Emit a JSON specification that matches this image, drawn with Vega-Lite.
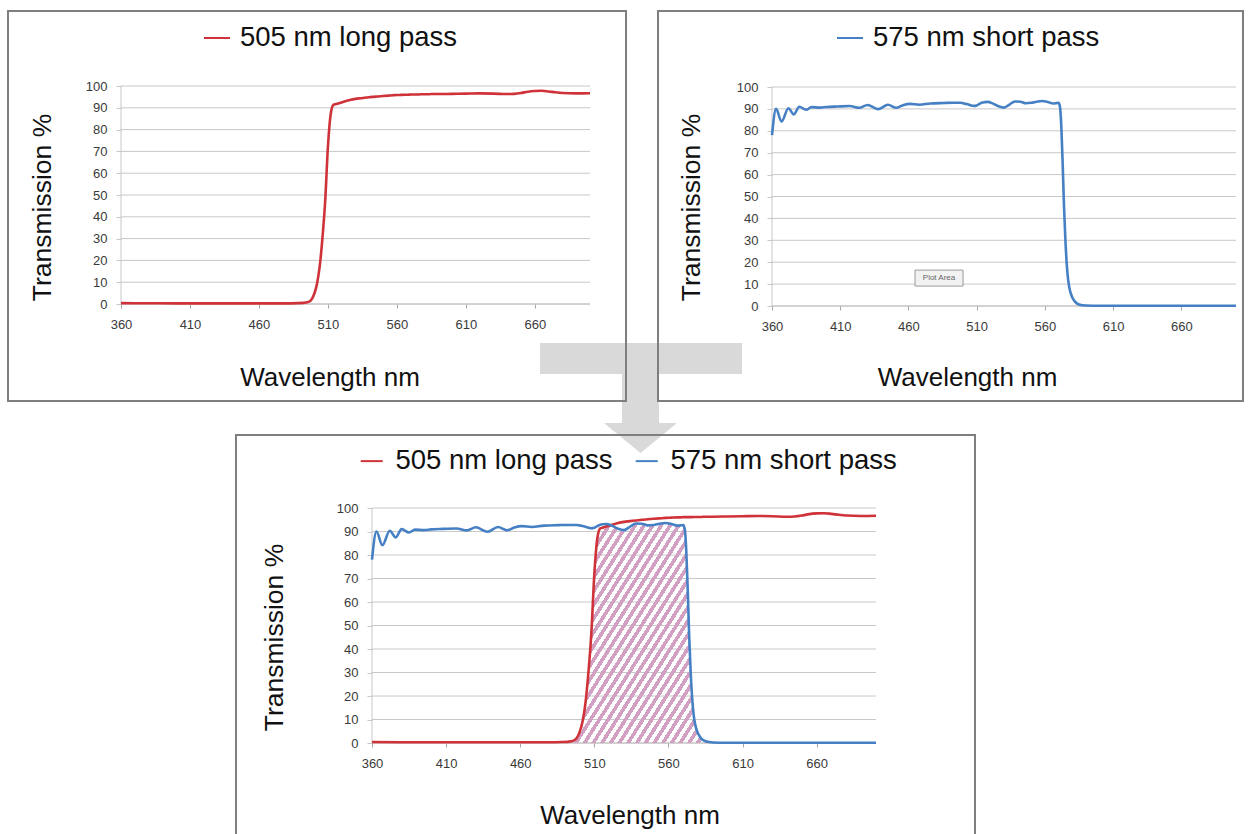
{
"$schema": "https://vega.github.io/schema/vega-lite/v6.json",
"width": 1249, "height": 834,
"autosize": {"type": "none", "contains": "padding"},
"padding": 0,
"background": "white",
"config": {"view": {"stroke": null}, "font": "Liberation Sans", "axis": {"labelFont": "Liberation Sans", "labelFontSize": 13, "labelColor": "#3a3a3a"}},
"datasets": {
"grid": [{"T":10},{"T":20},{"T":30},{"T":40},{"T":50},{"T":60},{"T":70},{"T":80},{"T":90},{"T":100}],
"spectra": [
{"s":"505 nm long pass","wl":360,"T":0.4},{"s":"505 nm long pass","wl":380,"T":0.35},{"s":"505 nm long pass","wl":400,"T":0.3},{"s":"505 nm long pass","wl":420,"T":0.3},{"s":"505 nm long pass","wl":440,"T":0.3},{"s":"505 nm long pass","wl":460,"T":0.3},{"s":"505 nm long pass","wl":480,"T":0.3},{"s":"505 nm long pass","wl":488,"T":0.4},{"s":"505 nm long pass","wl":492,"T":0.5},{"s":"505 nm long pass","wl":494,"T":0.7},{"s":"505 nm long pass","wl":496,"T":1},{"s":"505 nm long pass","wl":498,"T":2},{"s":"505 nm long pass","wl":500,"T":4.5},{"s":"505 nm long pass","wl":502,"T":9},{"s":"505 nm long pass","wl":504,"T":17},{"s":"505 nm long pass","wl":506,"T":30},{"s":"505 nm long pass","wl":508,"T":47},{"s":"505 nm long pass","wl":510,"T":72},{"s":"505 nm long pass","wl":512,"T":87},{"s":"505 nm long pass","wl":514,"T":91.3},{"s":"505 nm long pass","wl":516,"T":91.7},{"s":"505 nm long pass","wl":518,"T":92.1},{"s":"505 nm long pass","wl":522,"T":92.9},{"s":"505 nm long pass","wl":526,"T":93.6},{"s":"505 nm long pass","wl":530,"T":94.1},{"s":"505 nm long pass","wl":534,"T":94.4},{"s":"505 nm long pass","wl":538,"T":94.7},{"s":"505 nm long pass","wl":542,"T":95},{"s":"505 nm long pass","wl":546,"T":95.2},{"s":"505 nm long pass","wl":550,"T":95.4},{"s":"505 nm long pass","wl":554,"T":95.6},{"s":"505 nm long pass","wl":558,"T":95.8},{"s":"505 nm long pass","wl":562,"T":95.9},{"s":"505 nm long pass","wl":566,"T":96},{"s":"505 nm long pass","wl":568,"T":96},{"s":"505 nm long pass","wl":570,"T":96.1},{"s":"505 nm long pass","wl":571,"T":96.1},{"s":"505 nm long pass","wl":572,"T":96.1},{"s":"505 nm long pass","wl":573,"T":96.1},{"s":"505 nm long pass","wl":574,"T":96.1},{"s":"505 nm long pass","wl":575,"T":96.1},{"s":"505 nm long pass","wl":576,"T":96.1},{"s":"505 nm long pass","wl":577,"T":96.2},{"s":"505 nm long pass","wl":578,"T":96.2},{"s":"505 nm long pass","wl":580,"T":96.2},{"s":"505 nm long pass","wl":582,"T":96.2},{"s":"505 nm long pass","wl":585,"T":96.3},{"s":"505 nm long pass","wl":590,"T":96.3},{"s":"505 nm long pass","wl":600,"T":96.4},{"s":"505 nm long pass","wl":610,"T":96.5},{"s":"505 nm long pass","wl":620,"T":96.6},{"s":"505 nm long pass","wl":630,"T":96.5},{"s":"505 nm long pass","wl":640,"T":96.3},{"s":"505 nm long pass","wl":645,"T":96.4},{"s":"505 nm long pass","wl":650,"T":96.8},{"s":"505 nm long pass","wl":655,"T":97.4},{"s":"505 nm long pass","wl":660,"T":97.7},{"s":"505 nm long pass","wl":665,"T":97.8},{"s":"505 nm long pass","wl":670,"T":97.5},{"s":"505 nm long pass","wl":675,"T":97.1},{"s":"505 nm long pass","wl":680,"T":96.8},{"s":"505 nm long pass","wl":690,"T":96.6},{"s":"505 nm long pass","wl":700,"T":96.7},
{"s":"575 nm short pass","wl":360,"T":78},{"s":"575 nm short pass","wl":363,"T":90},{"s":"575 nm short pass","wl":367,"T":84.2},{"s":"575 nm short pass","wl":372,"T":90.3},{"s":"575 nm short pass","wl":376,"T":87.5},{"s":"575 nm short pass","wl":380,"T":91},{"s":"575 nm short pass","wl":385,"T":89.6},{"s":"575 nm short pass","wl":389,"T":90.8},{"s":"575 nm short pass","wl":395,"T":90.6},{"s":"575 nm short pass","wl":400,"T":90.9},{"s":"575 nm short pass","wl":408,"T":91.1},{"s":"575 nm short pass","wl":417,"T":91.3},{"s":"575 nm short pass","wl":424,"T":90.5},{"s":"575 nm short pass","wl":430,"T":91.8},{"s":"575 nm short pass","wl":438,"T":89.9},{"s":"575 nm short pass","wl":445,"T":91.9},{"s":"575 nm short pass","wl":451,"T":90.5},{"s":"575 nm short pass","wl":456,"T":91.7},{"s":"575 nm short pass","wl":461,"T":92.3},{"s":"575 nm short pass","wl":468,"T":91.9},{"s":"575 nm short pass","wl":476,"T":92.5},{"s":"575 nm short pass","wl":486,"T":92.7},{"s":"575 nm short pass","wl":492,"T":92.8},{"s":"575 nm short pass","wl":496,"T":92.8},{"s":"575 nm short pass","wl":498,"T":92.8},{"s":"575 nm short pass","wl":500,"T":92.6},{"s":"575 nm short pass","wl":502,"T":92.3},{"s":"575 nm short pass","wl":504,"T":92.0},{"s":"575 nm short pass","wl":506,"T":91.6},{"s":"575 nm short pass","wl":508,"T":91.4},{"s":"575 nm short pass","wl":510,"T":91.6},{"s":"575 nm short pass","wl":512,"T":92.3},{"s":"575 nm short pass","wl":514,"T":92.9},{"s":"575 nm short pass","wl":516,"T":93.1},{"s":"575 nm short pass","wl":518,"T":93.2},{"s":"575 nm short pass","wl":522,"T":92.4},{"s":"575 nm short pass","wl":526,"T":91.2},{"s":"575 nm short pass","wl":530,"T":90.6},{"s":"575 nm short pass","wl":534,"T":92.0},{"s":"575 nm short pass","wl":538,"T":93.4},{"s":"575 nm short pass","wl":542,"T":93.3},{"s":"575 nm short pass","wl":546,"T":92.6},{"s":"575 nm short pass","wl":550,"T":92.8},{"s":"575 nm short pass","wl":554,"T":93.3},{"s":"575 nm short pass","wl":558,"T":93.6},{"s":"575 nm short pass","wl":562,"T":93.2},{"s":"575 nm short pass","wl":566,"T":92.5},{"s":"575 nm short pass","wl":568,"T":92.6},{"s":"575 nm short pass","wl":570,"T":92.8},{"s":"575 nm short pass","wl":571,"T":91},{"s":"575 nm short pass","wl":572,"T":82},{"s":"575 nm short pass","wl":573,"T":65},{"s":"575 nm short pass","wl":574,"T":45},{"s":"575 nm short pass","wl":575,"T":30},{"s":"575 nm short pass","wl":576,"T":19},{"s":"575 nm short pass","wl":577,"T":12},{"s":"575 nm short pass","wl":578,"T":8},{"s":"575 nm short pass","wl":580,"T":4},{"s":"575 nm short pass","wl":582,"T":2},{"s":"575 nm short pass","wl":585,"T":0.7},{"s":"575 nm short pass","wl":590,"T":0.2},{"s":"575 nm short pass","wl":600,"T":0.1},{"s":"575 nm short pass","wl":650,"T":0.1},{"s":"575 nm short pass","wl":700,"T":0.1}
]
},
"resolve": {"scale": {"x": "independent", "y": "independent", "color": "independent"}},
"layer": [
{
"layer": [
{"data": {"values": [{}]},
 "mark": {"type": "point", "shape": "M-1,-0.5446L1,-0.5446L1,-0.2376L0.1782,-0.2376L0.1782,0.2475L0.3564,0.2475L-0.005,0.5446L-0.3663,0.2475L-0.1881,0.2475L-0.1881,-0.2376L-1,-0.2376Z", "size": 40804, "filled": true, "fill": "#d9d9d9", "strokeWidth": 0, "opacity": 1},
 "encoding": {"x": {"datum": 736.97, "type": "quantitative", "scale": {"domain":[272.28,1177.74],"nice":false,"zero":false}},
              "y": {"datum": -43.12, "type": "quantitative", "scale": {"domain":[-243.12,139.45],"nice":false,"zero":false}}}},
{"data": {"name": "grid"},
 "mark": {"type": "rule", "color": "#c8c8c8", "strokeWidth": 1},
 "encoding": {"y": {"field": "T", "type": "quantitative", "scale": {"domain":[-243.12,139.45],"nice":false,"zero":false}},
              "x": {"datum": 360, "type": "quantitative", "scale": {"domain":[272.28,1177.74],"nice":false,"zero":false}},
              "x2": {"datum": 700}}},
{"data": {"values": [{}]},
 "mark": {"type": "rule", "color": "#a6a6a6", "strokeWidth": 1},
 "encoding": {"y": {"datum": 0, "type": "quantitative", "scale": {"domain":[-243.12,139.45],"nice":false,"zero":false}},
              "x": {"datum": 360, "type": "quantitative", "scale": {"domain":[272.28,1177.74],"nice":false,"zero":false}},
              "x2": {"datum": 700}}},
{"data": {"values": [{}]},
 "mark": {"type": "rule", "color": "#c8c8c8", "strokeWidth": 1},
 "encoding": {"x": {"datum": 360, "type": "quantitative", "scale": {"domain":[272.28,1177.74],"nice":false,"zero":false}},
              "y": {"datum": 0, "type": "quantitative", "scale": {"domain":[-243.12,139.45],"nice":false,"zero":false}},
              "y2": {"datum": 100}}},
{"data": {"name": "spectra"},
 "transform": [{"filter": "datum.s === '505 nm long pass'"}],
 "mark": {"type": "line", "strokeWidth": 2.6, "interpolate": "monotone"},
 "encoding": {
  "x": {"field": "wl", "type": "quantitative", "scale": {"domain":[272.28,1177.74],"nice":false,"zero":false},
        "axis": {"orient": "bottom", "offset": -530, "values": [360,410,460,510,560,610,660], "domain": false, "grid": false, "ticks": true, "tickSize": 4, "tickColor": "#a6a6a6", "labelPadding": 10, "title": "Wavelength nm", "titleFont": "Liberation Sans", "titleFontSize": 26, "titleFontWeight": "normal", "titleColor": "#111111", "titleX": 329.5, "titleY": 73, "titleAlign": "center", "titleBaseline": "middle", "titleAngle": 0}},
  "y": {"field": "T", "type": "quantitative", "scale": {"domain":[-243.12,139.45],"nice":false,"zero":false},
        "axis": {"orient": "left", "offset": -121, "values": [0,10,20,30,40,50,60,70,80,90,100], "domain": false, "grid": false, "ticks": true, "tickSize": 5, "tickColor": "#c8c8c8", "labelPadding": 9, "title": "Transmission %", "titleFont": "Liberation Sans", "titleFontSize": 26.5, "titleFontWeight": "normal", "titleColor": "#111111", "titleX": -79, "titleY": 207, "titleAngle": -90, "titleAlign": "center", "titleBaseline": "middle"}},
  "color": {"field": "s", "type": "nominal", "scale": {"domain": ["505 nm long pass"], "range": ["#cf3339"]},
        "legend": {"orient": "none", "legendX": 203, "legendY": 24, "title": null, "symbolType": "stroke", "symbolSize": 676, "symbolStrokeWidth": 2, "labelFont": "Liberation Sans", "labelFontSize": 27.5, "labelColor": "#111111", "labelOffset": 9, "labelLimit": 400, "padding": 0}}
 }},
{"data": {"values": [{}]},
 "mark": {"type": "rect", "fill": "transparent", "stroke": "#7f7f7f", "strokeWidth": 2},
 "encoding": {"x": {"datum": 278.08, "type": "quantitative", "scale": {"domain":[272.28,1177.74],"nice":false,"zero":false}},
              "x2": {"datum": 726.10},
              "y": {"datum": 134.40, "type": "quantitative", "scale": {"domain":[-243.12,139.45],"nice":false,"zero":false}},
              "y2": {"datum": -44.50}}}
]
},
{
"layer": [
{"data": {"name": "grid"},
 "mark": {"type": "rule", "color": "#c8c8c8", "strokeWidth": 1},
 "encoding": {"y": {"field": "T", "type": "quantitative", "scale": {"domain":[-241.10,139.73],"nice":false,"zero":false}},
              "x": {"datum": 360, "type": "quantitative", "scale": {"domain":[-205.69,709.53],"nice":false,"zero":false}},
              "x2": {"datum": 700}}},
{"data": {"values": [{}]},
 "mark": {"type": "rule", "color": "#a6a6a6", "strokeWidth": 1},
 "encoding": {"y": {"datum": 0, "type": "quantitative", "scale": {"domain":[-241.10,139.73],"nice":false,"zero":false}},
              "x": {"datum": 360, "type": "quantitative", "scale": {"domain":[-205.69,709.53],"nice":false,"zero":false}},
              "x2": {"datum": 700}}},
{"data": {"values": [{}]},
 "mark": {"type": "rule", "color": "#c8c8c8", "strokeWidth": 1},
 "encoding": {"x": {"datum": 360, "type": "quantitative", "scale": {"domain":[-205.69,709.53],"nice":false,"zero":false}},
              "y": {"datum": 0, "type": "quantitative", "scale": {"domain":[-241.10,139.73],"nice":false,"zero":false}},
              "y2": {"datum": 100}}},
{"data": {"values": [{}]},
 "mark": {"type": "rect", "fill": "#f2f2f2", "stroke": "#9a9a9a", "strokeWidth": 1},
 "encoding": {"x": {"datum": 464.8, "type": "quantitative", "scale": {"domain":[-205.69,709.53],"nice":false,"zero":false}},
              "x2": {"datum": 500.0},
              "y": {"datum": 16.4, "type": "quantitative", "scale": {"domain":[-241.10,139.73],"nice":false,"zero":false}},
              "y2": {"datum": 9.1}}},
{"data": {"values": [{}]},
 "mark": {"type": "text", "text": "Plot Area", "fontSize": 8, "color": "#666666", "align": "center", "baseline": "middle"},
 "encoding": {"x": {"datum": 482.4, "type": "quantitative", "scale": {"domain":[-205.69,709.53],"nice":false,"zero":false}},
              "y": {"datum": 12.8, "type": "quantitative", "scale": {"domain":[-241.10,139.73],"nice":false,"zero":false}}}},
{"data": {"name": "spectra"},
 "transform": [{"filter": "datum.s === '575 nm short pass'"}],
 "mark": {"type": "line", "strokeWidth": 2.6, "interpolate": "monotone"},
 "encoding": {
  "x": {"field": "wl", "type": "quantitative", "scale": {"domain":[-205.69,709.53],"nice":false,"zero":false},
        "axis": {"orient": "bottom", "offset": -528, "values": [360,410,460,510,560,610,660], "domain": false, "grid": false, "ticks": true, "tickSize": 4, "tickColor": "#a6a6a6", "labelPadding": 10, "title": "Wavelength nm", "titleFont": "Liberation Sans", "titleFontSize": 26, "titleFontWeight": "normal", "titleColor": "#111111", "titleX": 967, "titleY": 71, "titleAlign": "center", "titleBaseline": "middle", "titleAngle": 0}},
  "y": {"field": "T", "type": "quantitative", "scale": {"domain":[-241.10,139.73],"nice":false,"zero":false},
        "axis": {"orient": "left", "offset": -772, "values": [0,10,20,30,40,50,60,70,80,90,100], "domain": false, "grid": false, "ticks": true, "tickSize": 5, "tickColor": "#c8c8c8", "labelPadding": 9, "title": "Transmission %", "titleFont": "Liberation Sans", "titleFontSize": 26.5, "titleFontWeight": "normal", "titleColor": "#111111", "titleX": -81, "titleY": 207, "titleAngle": -90, "titleAlign": "center", "titleBaseline": "middle"}},
  "color": {"field": "s", "type": "nominal", "scale": {"domain": ["575 nm short pass"], "range": ["#4680c4"]},
        "legend": {"orient": "none", "legendX": 836, "legendY": 24, "title": null, "symbolType": "stroke", "symbolSize": 676, "symbolStrokeWidth": 2, "labelFont": "Liberation Sans", "labelFontSize": 27.5, "labelColor": "#111111", "labelOffset": 9, "labelLimit": 400, "padding": 0}}
 }},
{"data": {"values": [{}]},
 "mark": {"type": "rect", "fill": "transparent", "stroke": "#7f7f7f", "strokeWidth": 2},
 "encoding": {"x": {"datum": 276.47, "type": "quantitative", "scale": {"domain":[-205.69,709.53],"nice":false,"zero":false}},
              "x2": {"datum": 705.13},
              "y": {"datum": 134.70, "type": "quantitative", "scale": {"domain":[-241.10,139.73],"nice":false,"zero":false}},
              "y2": {"datum": -43.38}}}
]
},
{
"layer": [
{"data": {"name": "grid"},
 "mark": {"type": "rule", "color": "#c8c8c8", "strokeWidth": 1},
 "encoding": {"y": {"field": "T", "type": "quantitative", "scale": {"domain":[-38.72,316.17],"nice":false,"zero":false}},
              "x": {"datum": 360, "type": "quantitative", "scale": {"domain":[109.05,951.63],"nice":false,"zero":false}},
              "x2": {"datum": 700}}},
{"data": {"values": [{}]},
 "mark": {"type": "rule", "color": "#a6a6a6", "strokeWidth": 1},
 "encoding": {"y": {"datum": 0, "type": "quantitative", "scale": {"domain":[-38.72,316.17],"nice":false,"zero":false}},
              "x": {"datum": 360, "type": "quantitative", "scale": {"domain":[109.05,951.63],"nice":false,"zero":false}},
              "x2": {"datum": 700}}},
{"data": {"values": [{}]},
 "mark": {"type": "rule", "color": "#c8c8c8", "strokeWidth": 1},
 "encoding": {"x": {"datum": 360, "type": "quantitative", "scale": {"domain":[109.05,951.63],"nice":false,"zero":false}},
              "y": {"datum": 0, "type": "quantitative", "scale": {"domain":[-38.72,316.17],"nice":false,"zero":false}},
              "y2": {"datum": 100}}},
{"data": {"name": "spectra"},
 "transform": [{"filter": "datum.wl >= 496 && datum.wl <= 590"}],
 "mark": {"type": "area", "interpolate": "monotone", "strokeWidth": 0, "opacity": 1,
  "fill": {"gradient": "linear", "x1": 0, "y1": 0, "x2": 1, "y2": 1, "stops": [
{"offset":0,"color":"#d2a0c3"},{"offset":0.015625,"color":"#d2a0c3"},{"offset":0.015625,"color":"rgba(210,160,195,0)"},{"offset":0.03125,"color":"rgba(210,160,195,0)"},
{"offset":0.03125,"color":"#d2a0c3"},{"offset":0.046875,"color":"#d2a0c3"},{"offset":0.046875,"color":"rgba(210,160,195,0)"},{"offset":0.0625,"color":"rgba(210,160,195,0)"},
{"offset":0.0625,"color":"#d2a0c3"},{"offset":0.078125,"color":"#d2a0c3"},{"offset":0.078125,"color":"rgba(210,160,195,0)"},{"offset":0.09375,"color":"rgba(210,160,195,0)"},
{"offset":0.09375,"color":"#d2a0c3"},{"offset":0.109375,"color":"#d2a0c3"},{"offset":0.109375,"color":"rgba(210,160,195,0)"},{"offset":0.125,"color":"rgba(210,160,195,0)"},
{"offset":0.125,"color":"#d2a0c3"},{"offset":0.140625,"color":"#d2a0c3"},{"offset":0.140625,"color":"rgba(210,160,195,0)"},{"offset":0.15625,"color":"rgba(210,160,195,0)"},
{"offset":0.15625,"color":"#d2a0c3"},{"offset":0.171875,"color":"#d2a0c3"},{"offset":0.171875,"color":"rgba(210,160,195,0)"},{"offset":0.1875,"color":"rgba(210,160,195,0)"},
{"offset":0.1875,"color":"#d2a0c3"},{"offset":0.203125,"color":"#d2a0c3"},{"offset":0.203125,"color":"rgba(210,160,195,0)"},{"offset":0.21875,"color":"rgba(210,160,195,0)"},
{"offset":0.21875,"color":"#d2a0c3"},{"offset":0.234375,"color":"#d2a0c3"},{"offset":0.234375,"color":"rgba(210,160,195,0)"},{"offset":0.25,"color":"rgba(210,160,195,0)"},
{"offset":0.25,"color":"#d2a0c3"},{"offset":0.265625,"color":"#d2a0c3"},{"offset":0.265625,"color":"rgba(210,160,195,0)"},{"offset":0.28125,"color":"rgba(210,160,195,0)"},
{"offset":0.28125,"color":"#d2a0c3"},{"offset":0.296875,"color":"#d2a0c3"},{"offset":0.296875,"color":"rgba(210,160,195,0)"},{"offset":0.3125,"color":"rgba(210,160,195,0)"},
{"offset":0.3125,"color":"#d2a0c3"},{"offset":0.328125,"color":"#d2a0c3"},{"offset":0.328125,"color":"rgba(210,160,195,0)"},{"offset":0.34375,"color":"rgba(210,160,195,0)"},
{"offset":0.34375,"color":"#d2a0c3"},{"offset":0.359375,"color":"#d2a0c3"},{"offset":0.359375,"color":"rgba(210,160,195,0)"},{"offset":0.375,"color":"rgba(210,160,195,0)"},
{"offset":0.375,"color":"#d2a0c3"},{"offset":0.390625,"color":"#d2a0c3"},{"offset":0.390625,"color":"rgba(210,160,195,0)"},{"offset":0.40625,"color":"rgba(210,160,195,0)"},
{"offset":0.40625,"color":"#d2a0c3"},{"offset":0.421875,"color":"#d2a0c3"},{"offset":0.421875,"color":"rgba(210,160,195,0)"},{"offset":0.4375,"color":"rgba(210,160,195,0)"},
{"offset":0.4375,"color":"#d2a0c3"},{"offset":0.453125,"color":"#d2a0c3"},{"offset":0.453125,"color":"rgba(210,160,195,0)"},{"offset":0.46875,"color":"rgba(210,160,195,0)"},
{"offset":0.46875,"color":"#d2a0c3"},{"offset":0.484375,"color":"#d2a0c3"},{"offset":0.484375,"color":"rgba(210,160,195,0)"},{"offset":0.5,"color":"rgba(210,160,195,0)"},
{"offset":0.5,"color":"#d2a0c3"},{"offset":0.515625,"color":"#d2a0c3"},{"offset":0.515625,"color":"rgba(210,160,195,0)"},{"offset":0.53125,"color":"rgba(210,160,195,0)"},
{"offset":0.53125,"color":"#d2a0c3"},{"offset":0.546875,"color":"#d2a0c3"},{"offset":0.546875,"color":"rgba(210,160,195,0)"},{"offset":0.5625,"color":"rgba(210,160,195,0)"},
{"offset":0.5625,"color":"#d2a0c3"},{"offset":0.578125,"color":"#d2a0c3"},{"offset":0.578125,"color":"rgba(210,160,195,0)"},{"offset":0.59375,"color":"rgba(210,160,195,0)"},
{"offset":0.59375,"color":"#d2a0c3"},{"offset":0.609375,"color":"#d2a0c3"},{"offset":0.609375,"color":"rgba(210,160,195,0)"},{"offset":0.625,"color":"rgba(210,160,195,0)"},
{"offset":0.625,"color":"#d2a0c3"},{"offset":0.640625,"color":"#d2a0c3"},{"offset":0.640625,"color":"rgba(210,160,195,0)"},{"offset":0.65625,"color":"rgba(210,160,195,0)"},
{"offset":0.65625,"color":"#d2a0c3"},{"offset":0.671875,"color":"#d2a0c3"},{"offset":0.671875,"color":"rgba(210,160,195,0)"},{"offset":0.6875,"color":"rgba(210,160,195,0)"},
{"offset":0.6875,"color":"#d2a0c3"},{"offset":0.703125,"color":"#d2a0c3"},{"offset":0.703125,"color":"rgba(210,160,195,0)"},{"offset":0.71875,"color":"rgba(210,160,195,0)"},
{"offset":0.71875,"color":"#d2a0c3"},{"offset":0.734375,"color":"#d2a0c3"},{"offset":0.734375,"color":"rgba(210,160,195,0)"},{"offset":0.75,"color":"rgba(210,160,195,0)"},
{"offset":0.75,"color":"#d2a0c3"},{"offset":0.765625,"color":"#d2a0c3"},{"offset":0.765625,"color":"rgba(210,160,195,0)"},{"offset":0.78125,"color":"rgba(210,160,195,0)"},
{"offset":0.78125,"color":"#d2a0c3"},{"offset":0.796875,"color":"#d2a0c3"},{"offset":0.796875,"color":"rgba(210,160,195,0)"},{"offset":0.8125,"color":"rgba(210,160,195,0)"},
{"offset":0.8125,"color":"#d2a0c3"},{"offset":0.828125,"color":"#d2a0c3"},{"offset":0.828125,"color":"rgba(210,160,195,0)"},{"offset":0.84375,"color":"rgba(210,160,195,0)"},
{"offset":0.84375,"color":"#d2a0c3"},{"offset":0.859375,"color":"#d2a0c3"},{"offset":0.859375,"color":"rgba(210,160,195,0)"},{"offset":0.875,"color":"rgba(210,160,195,0)"},
{"offset":0.875,"color":"#d2a0c3"},{"offset":0.890625,"color":"#d2a0c3"},{"offset":0.890625,"color":"rgba(210,160,195,0)"},{"offset":0.90625,"color":"rgba(210,160,195,0)"},
{"offset":0.90625,"color":"#d2a0c3"},{"offset":0.921875,"color":"#d2a0c3"},{"offset":0.921875,"color":"rgba(210,160,195,0)"},{"offset":0.9375,"color":"rgba(210,160,195,0)"},
{"offset":0.9375,"color":"#d2a0c3"},{"offset":0.953125,"color":"#d2a0c3"},{"offset":0.953125,"color":"rgba(210,160,195,0)"},{"offset":0.96875,"color":"rgba(210,160,195,0)"},
{"offset":0.96875,"color":"#d2a0c3"},{"offset":0.984375,"color":"#d2a0c3"},{"offset":0.984375,"color":"rgba(210,160,195,0)"},{"offset":1,"color":"rgba(210,160,195,0)"}
  ]}},
 "encoding": {"x": {"field": "wl", "type": "quantitative", "scale": {"domain":[109.05,951.63],"nice":false,"zero":false}},
              "y": {"aggregate": "min", "field": "T", "type": "quantitative", "scale": {"domain":[-38.72,316.17],"nice":false,"zero":false}},
              "y2": {"datum": 0}}},
{"data": {"name": "spectra"},
 "mark": {"type": "line", "strokeWidth": 2.6, "interpolate": "monotone"},
 "encoding": {
  "x": {"field": "wl", "type": "quantitative", "scale": {"domain":[109.05,951.63],"nice":false,"zero":false},
        "axis": {"orient": "bottom", "offset": -91, "values": [360,410,460,510,560,610,660], "domain": false, "grid": false, "ticks": true, "tickSize": 4, "tickColor": "#a6a6a6", "labelPadding": 10, "title": "Wavelength nm", "titleFont": "Liberation Sans", "titleFontSize": 26, "titleFontWeight": "normal", "titleColor": "#111111", "titleX": 629.5, "titleY": 72, "titleAlign": "center", "titleBaseline": "middle", "titleAngle": 0}},
  "y": {"field": "T", "type": "quantitative", "scale": {"domain":[-38.72,316.17],"nice":false,"zero":false},
        "axis": {"orient": "left", "offset": -372, "values": [0,10,20,30,40,50,60,70,80,90,100], "domain": false, "grid": false, "ticks": true, "tickSize": 5, "tickColor": "#c8c8c8", "labelPadding": 9, "title": "Transmission %", "titleFont": "Liberation Sans", "titleFontSize": 26.5, "titleFontWeight": "normal", "titleColor": "#111111", "titleX": -98, "titleY": 637, "titleAngle": -90, "titleAlign": "center", "titleBaseline": "middle"}},
  "color": {"field": "s", "type": "nominal", "scale": {"domain": ["505 nm long pass", "575 nm short pass"], "range": ["#cf3339", "#4680c4"]},
        "legend": {"orient": "none", "legendX": 358, "legendY": 447, "direction": "horizontal", "columnPadding": 18, "title": null, "symbolType": "stroke", "symbolSize": 484, "symbolStrokeWidth": 2, "labelFont": "Liberation Sans", "labelFontSize": 27.5, "labelColor": "#111111", "labelOffset": 10, "labelLimit": 400, "padding": 0}}
 }},
{"data": {"values": [{}]},
 "mark": {"type": "rect", "fill": "transparent", "stroke": "#7f7f7f", "strokeWidth": 2},
 "encoding": {"x": {"datum": 268.25, "type": "quantitative", "scale": {"domain":[109.05,951.63],"nice":false,"zero":false}},
              "x2": {"datum": 766.79},
              "y": {"datum": 131.06, "type": "quantitative", "scale": {"domain":[-38.72,316.17],"nice":false,"zero":false}},
              "y2": {"datum": -41.28}}}
]
}
]
}
